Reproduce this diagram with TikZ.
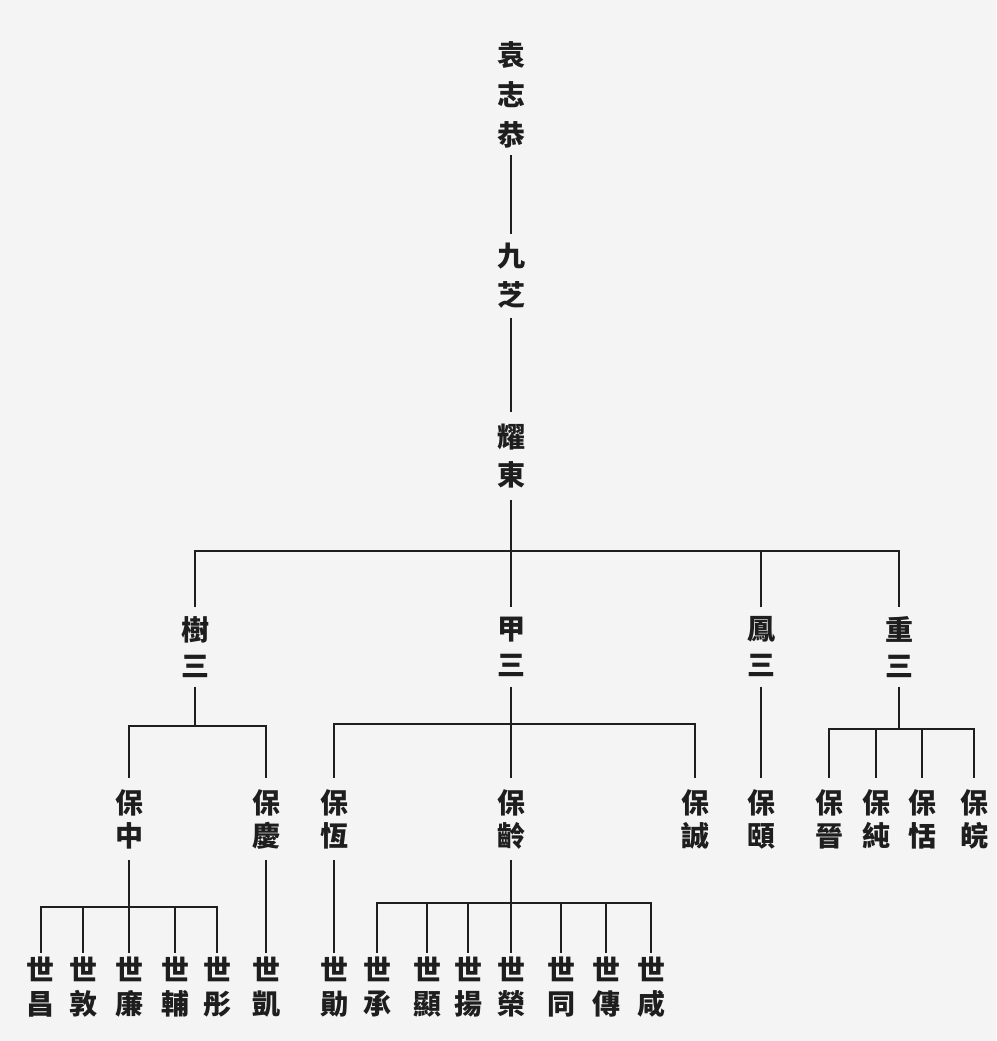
\documentclass[tikz,border=0pt]{standalone}
\usepackage{fontspec}
\newfontfamily\cjk{Noto Sans CJK TC}
\definecolor{ink}{HTML}{1E1E1E}
\definecolor{paper}{HTML}{F4F4F4}
\tikzset{
  person/.style={inner sep=0pt, align=center, text=ink, font=\cjk\bfseries\fontsize{28}{#1}\selectfont},
  gtop/.style={person=40, minimum height=120},
  gtwo/.style={person=39, minimum height=83},
  gthree/.style={person=38, minimum height=88},
  gfour/.style={person=36, minimum height=79},
  gfive/.style={person=33, minimum height=82},
  gsix/.style={person=34, minimum height=68},
  conn/.style={draw=ink, line width=2.8pt}
}
\begin{document}
\begin{tikzpicture}[x=1pt,y=-1pt]
\fill[paper] (0,0) rectangle (996,1041);
\useasboundingbox (0,0) rectangle (996,1041);

% generation 1-3
\node[gtop] (zhigong) at (511,95) {袁\\志\\恭};
\node[gtwo] (jiuzhi) at (511,276) {九\\芝};
\node[gthree] (yaodong) at (511,456) {耀\\東};

% generation 4
\node[gfour] (shusan) at (195,647) {樹\\三};
\node[gfour] (jiasan) at (511,647) {甲\\三};
\node[gfour] (fengsan) at (761,647) {鳳\\三};
\node[gfour] (chongsan) at (899,647) {重\\三};

% generation 5
\node[gfive] (baozhong) at (129,819) {保\\中};
\node[gfive] (baoqing) at (266,819) {保\\慶};
\node[gfive] (baoheng) at (334,819) {保\\恆};
\node[gfive] (baoling) at (511,819) {保\\齡};
\node[gfive] (baocheng) at (695,819) {保\\誠};
\node[gfive] (baoyi) at (761,819) {保\\頤};
\node[gfive] (baojin) at (829,819) {保\\晉};
\node[gfive] (baochun) at (876,819) {保\\純};
\node[gfive] (baotian) at (922,819) {保\\恬};
\node[gfive] (baowan) at (974,819) {保\\皖};

% generation 6
\node[gsix] (shichang) at (41,987) {世\\昌};
\node[gsix] (shidun) at (83,987) {世\\敦};
\node[gsix] (shilian) at (129,987) {世\\廉};
\node[gsix] (shifu) at (175,987) {世\\輔};
\node[gsix] (shitong) at (217,987) {世\\彤};
\node[gsix] (shikai) at (266,987) {世\\凱};
\node[gsix] (shixun) at (334,987) {世\\勛};
\node[gsix] (shicheng) at (377,987) {世\\承};
\node[gsix] (shixian) at (427,987) {世\\顯};
\node[gsix] (shiyang) at (468,987) {世\\揚};
\node[gsix] (shirong) at (511,987) {世\\榮};
\node[gsix] (shitongb) at (561,987) {世\\同};
\node[gsix] (shichuan) at (606,987) {世\\傳};
\node[gsix] (shixianb) at (651,987) {世\\咸};

% connectors: top line
\draw[conn] (zhigong.south) -- (jiuzhi.north);
\draw[conn] (jiuzhi.south) -- (yaodong.north);
\draw[conn] (yaodong.south) -- (jiasan.north);
\coordinate (b3) at (0,551);
\draw[conn] (shusan.north) |- (b3 -| chongsan.north) -- (chongsan.north);
\draw[conn] (fengsan.north) -- (fengsan.north |- b3);

% shusan branch
\coordinate (b4a) at (0,726);
\draw[conn] (shusan.south) -- (shusan.south |- b4a);
\draw[conn] (baozhong.north) |- (b4a -| baoqing.north) -- (baoqing.north);
% jiasan branch
\coordinate (b4b) at (0,724);
\draw[conn] (jiasan.south) -- (baoling.north);
\draw[conn] (baoheng.north) |- (b4b -| baocheng.north) -- (baocheng.north);
% fengsan branch
\draw[conn] (fengsan.south) -- (baoyi.north);
% chongsan branch
\coordinate (b4c) at (0,729);
\draw[conn] (chongsan.south) -- (chongsan.south |- b4c);
\draw[conn] (baojin.north) |- (b4c -| baowan.north) -- (baowan.north);
\draw[conn] (baochun.north) -- (baochun.north |- b4c);
\draw[conn] (baotian.north) -- (baotian.north |- b4c);

% baozhong branch
\coordinate (b5a) at (0,907);
\draw[conn] (baozhong.south) -- (shilian.north);
\draw[conn] (shichang.north) |- (b5a -| shitong.north) -- (shitong.north);
\draw[conn] (shidun.north) -- (shidun.north |- b5a);
\draw[conn] (shifu.north) -- (shifu.north |- b5a);
% baoqing, baoheng
\draw[conn] (baoqing.south) -- (shikai.north);
\draw[conn] (baoheng.south) -- (shixun.north);
% baoling branch
\coordinate (b5b) at (0,903);
\draw[conn] (baoling.south) -- (shirong.north);
\draw[conn] (shicheng.north) |- (b5b -| shixianb.north) -- (shixianb.north);
\draw[conn] (shixian.north) -- (shixian.north |- b5b);
\draw[conn] (shiyang.north) -- (shiyang.north |- b5b);
\draw[conn] (shitongb.north) -- (shitongb.north |- b5b);
\draw[conn] (shichuan.north) -- (shichuan.north |- b5b);
\end{tikzpicture}
\end{document}
